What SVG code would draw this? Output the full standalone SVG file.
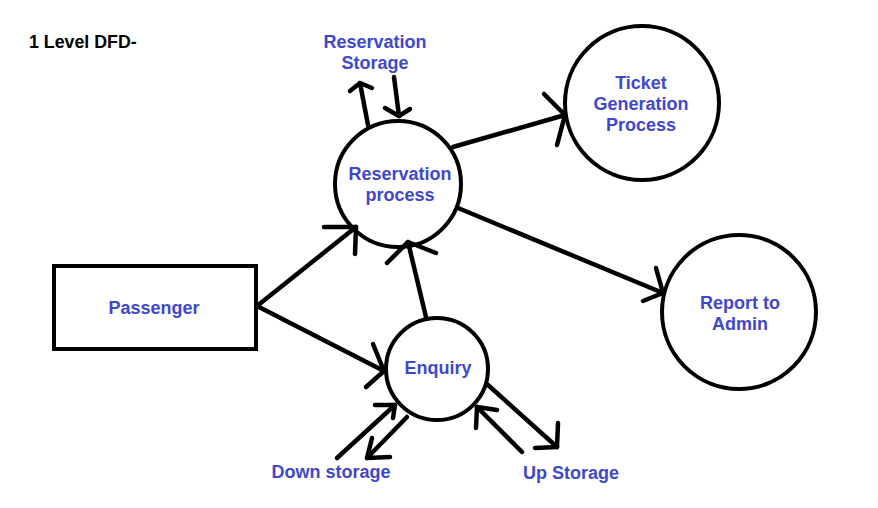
<svg xmlns="http://www.w3.org/2000/svg" width="878" height="508" viewBox="0 0 878 508">
<style>
.n{fill:none;stroke:#000;stroke-width:4}
.c line,.c polyline{stroke:#000;stroke-width:4.5;stroke-linecap:round;fill:none;stroke-linejoin:round}
.t{font-family:"Liberation Sans",Arial,sans-serif;font-weight:bold;font-size:18px;fill:#3F48CC;text-anchor:middle}
.h{font-family:"Liberation Sans",Arial,sans-serif;font-weight:bold;font-size:17.8px;fill:#000}
</style>
<rect width="878" height="508" fill="#fff"/>
<text class="h" x="29" y="48">1 Level DFD-</text>
<g id="passenger"><rect class="n" x="54" y="266" width="202" height="83"/><text class="t" x="154" y="314">Passenger</text></g>
<g id="reservation"><circle class="n" cx="398" cy="184" r="63"/><text class="t" x="400" y="180">Reservation</text><text class="t" x="400" y="201">process</text></g>
<g id="ticket"><circle class="n" cx="642" cy="103" r="77"/><text class="t" x="641" y="89">Ticket</text><text class="t" x="641" y="110">Generation</text><text class="t" x="641" y="131">Process</text></g>
<g id="report"><circle class="n" cx="739" cy="312" r="77"/><text class="t" x="740" y="309">Report to</text><text class="t" x="740" y="330">Admin</text></g>
<g id="enquiry"><circle class="n" cx="437" cy="369" r="51"/><text class="t" x="438" y="374">Enquiry</text></g>
<g id="res-storage"><text class="t" x="375" y="48">Reservation</text><text class="t" x="375" y="69">Storage</text></g>
<g id="down-storage"><text class="t" x="331" y="478">Down storage</text></g>
<g id="up-storage"><text class="t" x="571" y="479">Up Storage</text></g>
<g class="c" id="connectors">
<line x1="257" y1="306" x2="356" y2="227"/><polyline points="324,227 356,227 355,254"/>
<line x1="257" y1="306" x2="384" y2="371"/><polyline points="373,344 384,371 366,387"/>
<line x1="426" y1="317" x2="408" y2="242"/><polyline points="387,263 408,242 436,253"/>
<line x1="453" y1="147" x2="565" y2="115"/><polyline points="544,94 565,115 557,145"/>
<line x1="458" y1="208" x2="663" y2="293"/><polyline points="656,268 663,293 643,301"/>
<line x1="368" y1="125" x2="360" y2="83"/><polyline points="350,91 360,83 372,88"/>
<line x1="394" y1="77" x2="399" y2="116"/><polyline points="385,108 399,116 410,109"/>
<line x1="337" y1="458" x2="395" y2="405"/><polyline points="375,405 395,405 393,418"/>
<line x1="407" y1="417" x2="367" y2="458"/><polyline points="372,438 367,458 390,457"/>
<line x1="522" y1="452" x2="477" y2="407"/><polyline points="497,410 477,407 476,428"/>
<line x1="488" y1="385" x2="557" y2="447"/><polyline points="558,423 557,447 535,448"/>
</g>
</svg>
